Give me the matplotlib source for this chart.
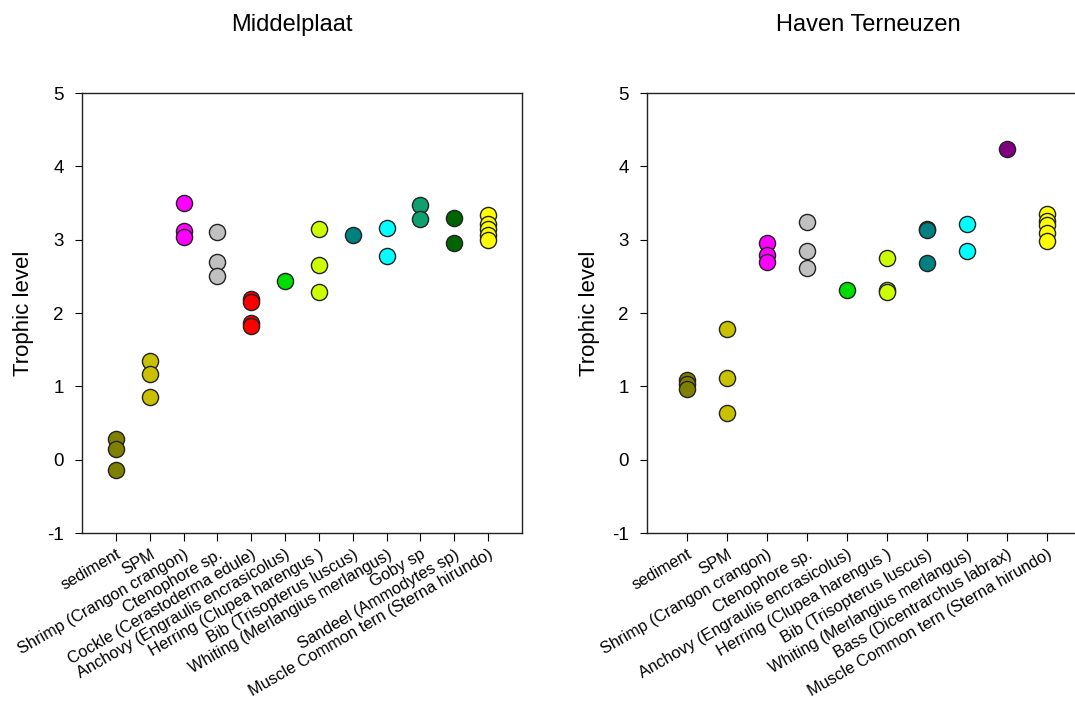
import numpy as np
import matplotlib
matplotlib.use("Agg")
import matplotlib.pyplot as plt
from matplotlib.transforms import ScaledTranslation

plt.rcParams['font.family'] = ['Liberation Sans', 'DejaVu Sans']
plt.rcParams['axes.unicode_minus'] = False

# Middelplaat
mid_labels = ["sediment", "SPM", "Shrimp (Crangon crangon)", "Ctenophore sp.",
              "Cockle (Cerastoderma edule)", "Anchovy (Engraulis encrasicolus)",
              "Herring (Clupea harengus )", "Bib (Trisopterus luscus)",
              "Whiting (Merlangius merlangus)", "Goby sp", "Sandeel (Ammodytes sp)",
              "Muscle Common tern (Sterna hirundo)"]
mid_values = [
    [0.28, 0.15, -0.14],
    [1.35, 1.17, 0.85],
    [3.50, 3.12, 3.03],
    [3.10, 2.70, 2.51],
    [2.19, 2.15, 1.86, 1.82],
    [2.44],
    [3.14, 2.65, 2.28],
    [3.07],
    [3.16, 2.78],
    [3.47, 3.28],
    [3.30, 2.96],
    [3.34, 3.22, 3.15, 3.07, 2.99],
]
mid_colors = ["#808000", "#c8c000", "#ff00ff", "#c0c0c0", "#ff0000", "#00dd00",
              "#ccff00", "#008080", "#00ffff", "#10a070", "#006400", "#ffff00"]

# Haven Terneuzen
ter_labels = ["sediment", "SPM", "Shrimp (Crangon crangon)", "Ctenophore sp.",
              "Anchovy (Engraulis encrasicolus)", "Herring (Clupea harengus )",
              "Bib (Trisopterus luscus)", "Whiting (Merlangius merlangus)",
              "Bass (Dicentrarchus labrax)", "Muscle Common tern (Sterna hirundo)"]
ter_values = [
    [1.08, 1.03, 0.96],
    [1.78, 1.12, 0.63],
    [2.96, 2.79, 2.69],
    [3.24, 2.85, 2.61],
    [2.32],
    [2.75, 2.31, 2.29],
    [3.15, 3.13, 2.68],
    [3.22, 2.85],
    [4.23],
    [3.35, 3.25, 3.20, 3.09, 2.98],
]
ter_colors = ["#808000", "#c8c000", "#ff00ff", "#c0c0c0", "#00dd00",
              "#ccff00", "#008080", "#00ffff", "#800080", "#ffff00"]

fig = plt.figure(figsize=(10.75, 7.02), dpi=100)
ax1 = fig.add_axes([82/1075, 1-533/702, 440/1075, 440/702])
ax2 = fig.add_axes([647/1075, 1-533/702, 440/1075, 440/702])


def draw(ax, labels, values, colors, label_x, drift=0.0):
    for i, (vals, c) in enumerate(zip(values, colors)):
        x = np.full(len(vals), i + 1)
        ax.scatter(x, vals, s=135, c=c, edgecolors="#222222", linewidths=1.0, zorder=3)
    ax.set_xlim(0, len(labels) + 1)
    ax.set_ylim(-1, 5)
    ax.set_yticks(range(-1, 6))
    ax.set_xticks(range(1, len(labels) + 1))
    ax.set_xticklabels(labels, rotation=30, ha="right", va="top",
                       rotation_mode="anchor", fontsize=11.8)
    # labels in the original drift slightly left of their ticks
    for i, lab in enumerate(ax.get_xticklabels()):
        lab.set_transform(lab.get_transform() +
                          ScaledTranslation(-drift * i / 100, 0, fig.dpi_scale_trans))
    ax.tick_params(axis="y", direction="out", length=5, labelsize=13.5, pad=8)
    ax.tick_params(axis="x", direction="out", length=6, pad=4)
    ax.set_ylabel("Trophic level", fontsize=16)
    ax.yaxis.set_label_coords(label_x, 0.5)
    for sp in ax.spines.values():
        sp.set_linewidth(1.0)
        sp.set_color("#222222")


draw(ax1, mid_labels, mid_values, mid_colors, -0.11, drift=1.1)
draw(ax2, ter_labels, ter_values, ter_colors, -0.107)

fig.text(292/1075, 1-25/702, "Middelplaat", ha="center", va="center", fontsize=17)
fig.text(868/1075, 1-25/702, "Haven Terneuzen", ha="center", va="center", fontsize=17)

fig.savefig("out.png", dpi=100)
